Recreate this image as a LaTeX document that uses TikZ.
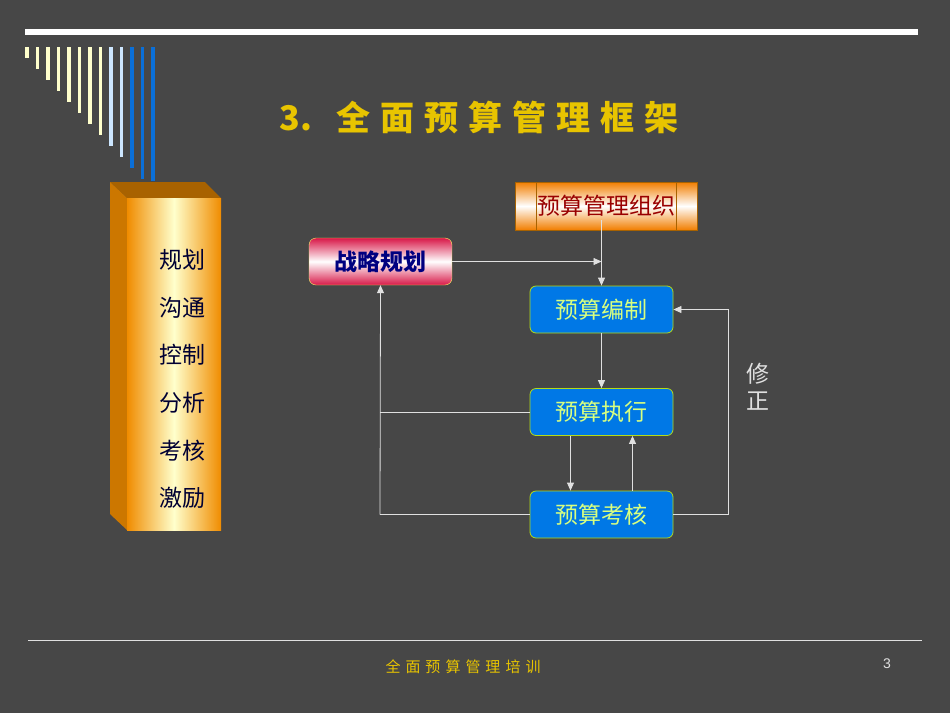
\documentclass[tikz,border=0pt]{standalone}
\usepackage{fontspec}
\newfontfamily\cjk{Noto Sans CJK SC}
\setmainfont{Liberation Sans}
\usetikzlibrary{arrows.meta}
\definecolor{bg}{HTML}{474747}
\definecolor{gold}{HTML}{E8C400}
\definecolor{pyel}{HTML}{FFFFCC}
\definecolor{lblue}{HTML}{CCE6FF}
\definecolor{dblue}{HTML}{0A6FD8}
\definecolor{boxblue}{HTML}{0078E6}
\definecolor{boxtxt}{HTML}{D8FF80}
\definecolor{orng}{HTML}{F08C00}
\definecolor{crim}{HTML}{D81848}
\definecolor{line}{HTML}{E0E0E0}
\tikzset{
  bluebox/.style={draw=yellow!70!green,line width=0.8pt,fill=boxblue,rounded corners=6pt,minimum width=143pt,minimum height=47pt,text=boxtxt,font=\cjk\fontsize{23}{23}\selectfont,inner sep=0pt},
  conn/.style={draw=line,line width=0.8pt,-{Triangle[open,length=8pt,width=7pt,fill=line]}},
  plain/.style={draw=line,line width=0.8pt},
  sidetxt/.style={font=\cjk\fontsize{23}{23}\selectfont,text=black!80!blue}
}
\begin{document}
\begin{tikzpicture}[x=1pt,y=-1pt]
\fill[bg] (0,0) rectangle (950,713);
\useasboundingbox (0,0) rectangle (950,713);
% top line
\fill[white] (25,29) rectangle (918,35);
% stripes
\foreach \i in {0,...,12}{
  \pgfmathsetmacro{\xx}{25+10.5*\i}
  \pgfmathsetmacro{\yy}{min(58+11*\i,181)}
  \ifnum\i<8 \def\cc{pyel}\else\ifnum\i<10 \def\cc{lblue}\else\def\cc{dblue}\fi\fi
  \fill[\cc] (\xx,47) rectangle ({\xx+3.5},\yy);
}
% title
\node[text=gold,font=\cjk\bfseries\fontsize{34}{34}\selectfont,anchor=west] (title) at (276,118) {3.\hspace{24pt}全\hspace{10pt}面\hspace{10pt}预\hspace{10pt}算\hspace{10pt}管\hspace{10pt}理\hspace{10pt}框\hspace{10pt}架};
% orange 3D box
\fill[orng!70!black] (110,182) -- (205,182) -- (221,198) -- (127,198) -- cycle;
\fill[orng!85!black] (110,182) -- (127,198) -- (127,530) -- (110,514) -- cycle;
\shade[left color=orng,right color=orng,middle color=yellow!20] (127,198) rectangle (221,530);
\foreach \t [count=\k] in {规划,沟通,控制,分析,考核,激励}
  \node[sidetxt] (s\k) at (182,{260+47.6*(\k-1)}) {\t};
% nodes
\shade[top color=orng!90!red,bottom color=orng!90!red,middle color=white] (515,182) rectangle (697,230);
\draw[orng!70!black] (515,182) rectangle (697,230) (536,182)--(536,230) (676,182)--(676,230);
\node[text=red!60!black,font=\cjk\fontsize{23}{23}\selectfont] (org) at (606,206) {预算管理组织};
\shade[top color=crim,bottom color=crim,middle color=white,rounded corners=7pt] (309,238) rectangle (452,285);
\draw[yellow!60,rounded corners=7pt] (309,238) rectangle (452,285);
\node[text=blue!50!black,font=\cjk\bfseries\fontsize{23}{23}\selectfont,minimum width=143pt,minimum height=47pt] (zl) at (380.5,261.5) {战略规划};
\node[bluebox] (bz) at (601.5,309.5) {预算编制};
\node[bluebox] (zx) at (601.5,412) {预算执行};
\node[bluebox] (kh) at (601.5,514.5) {预算考核};
% connectors
\draw[conn] (org.south -| bz.north) -- (bz.north);
\coordinate (j) at (bz.north |- zl.east);
\draw[conn] (zl.east) -- (j);
\draw[conn] (bz.south) -- (zx.north);
\draw[conn] ([xshift=-31pt]zx.south) -- ([xshift=-31pt]kh.north);
\draw[conn] ([xshift=31pt]kh.north) -- ([xshift=31pt]zx.south);
\coordinate (lb) at (380,514.5);
\draw[plain] (zx.west) -- (380,412);
\draw[plain] (kh.west) -- (lb);
\draw[conn] (lb) -- (zl.south);
\coordinate (rb) at (728,514.5);
\coordinate (rt) at (728,309.5);
\draw[conn] (kh.east) -- (rb) -- (rt) -- (bz.east);
\node[text=line,font=\cjk\fontsize{23}{23}\selectfont,align=center] (xz) at (758,387) {修\\[4pt]正};
% footer
\draw[line,line width=0.6pt] (28,640) -- (922,640);
\node[text=gold,font=\cjk\fontsize{15}{15}\selectfont] (ft) at (463,667) {全\hspace{5pt}面\hspace{5pt}预\hspace{5pt}算\hspace{5pt}管\hspace{5pt}理\hspace{5pt}培\hspace{5pt}训};
\node[text=line,font=\fontsize{14}{14}\selectfont] (pg) at (887,664) {3};
\end{tikzpicture}
\end{document}
